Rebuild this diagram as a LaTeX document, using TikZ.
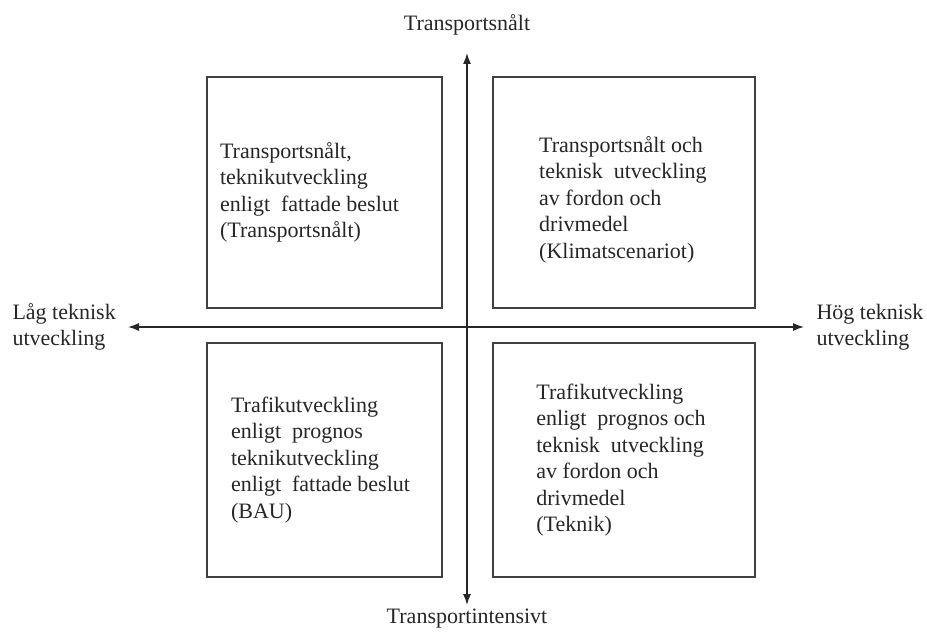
\documentclass[tikz,border=0pt]{standalone}
\usepackage{fontspec}
\setmainfont{Liberation Serif}
\usetikzlibrary{arrows.meta}

\begin{document}
\begin{tikzpicture}
  [x=1pt,y=-1pt,
   every node/.style={font=\fontsize{22}{26.5}\selectfont,text=black!85},
   quad/.style={draw=black!75,line width=1.2pt,align=left,inner sep=0pt},
   axis/.style={draw=black!85,line width=1.4pt,{Latex[length=11pt,width=8pt]}-{Latex[length=11pt,width=8pt]}}]
  \useasboundingbox (0,0) rectangle (927,634);

  % text blocks sit a little left of centre, hence the trailing rules
  \node[quad,minimum width=235,minimum height=231] (tl) at (324.5,192.5)
    {Transportsnålt,\\teknikutveckling\\enligt\ \ fattade beslut\rule{30pt}{0pt}\\(Transportsnålt)};
  \node[quad,minimum width=262,minimum height=231] (tr) at (624,192.5)
    {\rule{0pt}{30pt}Transportsnålt och\rule{6pt}{0pt}\\teknisk\ \ utveckling\\av fordon och\\drivmedel\\(Klimatscenariot)};
  \node[quad,minimum width=235,minimum height=234] (bl) at (324.5,460)
    {Trafikutveckling\\enligt\ \ prognos\\teknikutveckling\\enligt\ \ fattade beslut\rule{8pt}{0pt}\\(BAU)};
  \node[quad,minimum width=262,minimum height=234] (br) at (624,460)
    {Trafikutveckling\\enligt\ \ prognos och\rule{6pt}{0pt}\\teknisk\ \ utveckling\\av fordon och\\drivmedel\\(Teknik)};

  \coordinate (n) at (467,53);
  \coordinate (s) at (467,605);
  \coordinate (w) at (128,327);
  \coordinate (e) at (804,327);

  \node (top) at (467,25) {Transportsnålt};
  \node (bot) at (467,619) {Transportintensivt};
  \node[anchor=west,align=left] (low) at (9,327) {Låg teknisk\\utveckling};
  \node[anchor=west,align=left] (high) at (813,327) {Hög teknisk\\utveckling};

  \foreach \from/\to in {s/n,w/e}
    \draw[axis] (\from) -- (\to);

\end{tikzpicture}
\end{document}
